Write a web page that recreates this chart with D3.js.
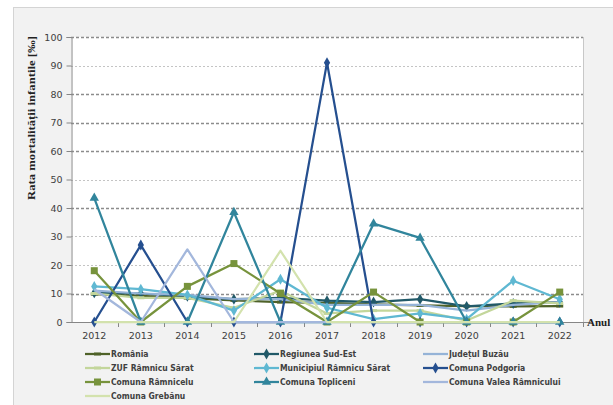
<!DOCTYPE html>
<html><head><meta charset="utf-8">
<script src="https://cdn.jsdelivr.net/npm/d3@7/dist/d3.min.js"></script>
<style>body{margin:0;background:#fff}svg{display:block}</style>
</head><body>
<script>
const years = ["2012","2013","2014","2015","2016","2017","2018","2019","2020","2021","2022"];
const yTicks = [0,10,20,30,40,50,60,70,80,90,100];
const seriesNames = ["România","Regiunea Sud-Est","Județul Buzău","ZUF Râmnicu Sărat","Municipiul Râmnicu Sărat","Comuna Podgoria","Comuna Râmnicelu","Comuna Topliceni","Comuna Valea Râmnicului","Comuna Grebănu"];
const romania    = [9.8, 9.2, 8.4, 7.6, 7.0, 6.7, 6.2, 5.8, 5.6, 5.5, 5.6];
const sudEst     = [10.2, 10.0, 9.0, 8.0, 8.5, 7.5, 7.0, 8.0, 5.5, 6.5, 7.0];
const buzau      = [11.0, 10.0, 9.5, 8.0, 8.0, 6.0, 6.0, 6.0, 4.0, 6.0, 7.0];
const zuf        = [10.0, 8.5, 8.5, 5.0, 11.0, 3.0, 4.0, 4.0, 0.5, 7.5, 6.5];
const municipiul = [12.5, 11.5, 9.5, 4.0, 15.0, 5.0, 1.0, 3.0, 1.0, 14.5, 8.0];
const podgoria   = [0, 27, 0, 0, 0, 91, 0, 0, 0, 0, 0];
const ramnicelu  = [18, 0, 12.5, 20.5, 10, 0, 10.5, 0, 0, 0, 10.5];
const topliceni  = [43.5, 0, 0, 38.5, 0, 0, 34.5, 29.5, 0, 0, 0];
const valea      = [11.5, 0, 25.5, 0, 0, 0, 0, 0, 0, 0, 0];
const grebanu    = [0, 0, 0, 0, 25, 0, 0, 0, 0, 0, 0];

const seriesValues = [romania, sudEst, buzau, zuf, municipiul, podgoria, ramnicelu, topliceni, valea, grebanu];
const styles = [
  {c:"#4f6228", m:"dash"},
  {c:"#215968", m:"diamond"},
  {c:"#95b3d7", m:"none"},
  {c:"#c3d69b", m:"dash"},
  {c:"#5fb8d2", m:"diamond"},
  {c:"#254f8f", m:"diamond"},
  {c:"#77933c", m:"square"},
  {c:"#31859c", m:"triangle"},
  {c:"#a3b7dc", m:"none"},
  {c:"#d3e2ad", m:"none"}
];

const W=613, H=405;
const svg = d3.select("body").append("svg").attr("width",W).attr("height",H);
svg.append("rect").attr("x",13.5).attr("y",7.5).attr("width",W).attr("height",H)
  .attr("fill","#f2f2f2").attr("stroke","#d4d4d4");

const L=71, R=583, T=37, B=322;
svg.append("rect").attr("x",L).attr("y",T).attr("width",R-L).attr("height",B-T).attr("fill","#fff");
svg.append("line").attr("x1",R+0.5).attr("x2",R+0.5).attr("y1",T).attr("y2",B).attr("stroke","#c8c8c8");

const x = d3.scaleBand().domain(years).range([L,R]).padding(0);
const cx = d => x(d)+x.bandwidth()/2;
const y = d3.scaleLinear().domain([0,100]).range([B,T]);

// gridlines
const dark = new Set([100,80,70,60,40,10]);
svg.append("g").selectAll("line").data(yTicks.filter(v=>v>0)).join("line")
  .attr("x1",L).attr("x2",R).attr("y1",d=>Math.round(y(d))+0.5).attr("y2",d=>Math.round(y(d))+0.5)
  .attr("stroke",d=>dark.has(d)?"#8c8c8c":"#c4c4c4")
  .attr("stroke-width",d=>dark.has(d)?1.3:1)
  .attr("stroke-dasharray",d=>dark.has(d)?"3,2":"2,2");

// y axis
const ya = svg.append("g").attr("transform",`translate(${L+0.5},0)`)
  .call(d3.axisLeft(y).tickValues(yTicks).tickSize(5).tickPadding(4));
ya.select(".domain").attr("stroke","#868686");
ya.selectAll(".tick line").attr("stroke","#868686");
ya.selectAll(".tick text").attr("fill","#404040").style("font-family","DejaVu Sans").style("font-size","9.5px");

// x axis
svg.append("line").attr("x1",L).attr("x2",R+8).attr("y1",B+0.5).attr("y2",B+0.5).attr("stroke","#868686");
const xa = svg.append("g").attr("transform",`translate(0,${B+0.5})`)
  .call(d3.axisBottom(x).tickSize(0).tickPadding(10));
xa.select(".domain").remove();
xa.selectAll(".tick text").attr("fill","#404040").style("font-family","DejaVu Sans").style("font-size","9.5px");
svg.append("g").selectAll("line").data(years.slice(1).concat(["end"])).join("line")
  .attr("x1",d=>d==="end"?R+0.5:Math.round(x(d))+0.5).attr("x2",d=>d==="end"?R+0.5:Math.round(x(d))+0.5)
  .attr("y1",B).attr("y2",B+5).attr("stroke","#868686");

// titles
svg.append("text").attr("transform","translate(35,118) rotate(-90)").attr("text-anchor","middle")
  .style("font-family","Liberation Serif").style("font-weight","bold").style("font-size","11px")
  .attr("textLength",164).attr("lengthAdjust","spacingAndGlyphs")
  .attr("fill","#222").text("Rata mortalității infantile [‰]");
svg.append("text").attr("x",587).attr("y",326).style("font-family","Liberation Serif").style("font-weight","bold")
  .style("font-size","11px").attr("fill","#222").text("Anul");

function marker(g, type, color, px, py){
  if(type==="diamond") g.append("path").attr("d",d3.symbol(d3.symbolDiamond,34)()).attr("transform",`translate(${px},${py})`).attr("fill",color);
  else if(type==="square") g.append("rect").attr("x",px-3.5).attr("y",py-3.5).attr("width",7).attr("height",7).attr("fill",color);
  else if(type==="triangle") g.append("path").attr("d",d3.symbol(d3.symbolTriangle,38)()).attr("transform",`translate(${px},${py})`).attr("fill",color);
  else if(type==="dash") g.append("rect").attr("x",px-3.5).attr("y",py-1.5).attr("width",7).attr("height",3).attr("fill",color);
}

const line = d3.line().x((d,i)=>cx(years[i])).y(d=>y(d));
const plot = svg.append("g");
seriesValues.forEach((vals,k)=>{
  const g = plot.append("g");
  g.append("path").datum(vals).attr("d",line).attr("fill","none").attr("stroke",styles[k].c)
    .attr("stroke-width",2.25).attr("stroke-linejoin","round");
  vals.forEach((v,i)=>marker(g, styles[k].m, styles[k].c, cx(years[i]), y(v)));
});

// legend
const colX = [85, 254, 423];
const rowY = [354, 368, 382, 396];
const leg = svg.append("g");
seriesNames.forEach((name,k)=>{
  const col = k%3, row = Math.floor(k/3);
  const lx = colX[col], ly = rowY[row];
  const g = leg.append("g");
  g.append("line").attr("x1",lx).attr("x2",lx+25).attr("y1",ly).attr("y2",ly).attr("stroke",styles[k].c).attr("stroke-width",2.25);
  marker(g, styles[k].m, styles[k].c, lx+12.5, ly);
  g.append("text").attr("x",lx+26).attr("y",ly+3.2).style("font-family","DejaVu Sans Condensed, DejaVu Sans").style("font-weight","bold")
    .style("font-size","8.5px").attr("fill","#404040").text(name);
});
</script>
</body></html>
